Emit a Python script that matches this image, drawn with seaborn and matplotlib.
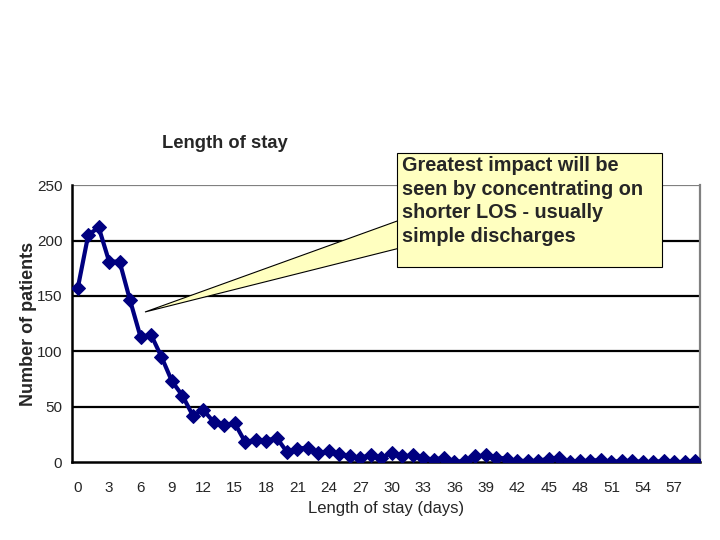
import pandas as pd
import numpy as np
import seaborn as sns
import matplotlib.pyplot as plt
from matplotlib.patches import Polygon, Rectangle

# Length of stay distribution
days = list(range(60))
patients = [157, 205, 212, 181, 181, 146, 113, 115, 95, 73,
            60, 42, 47, 36, 33, 35, 18, 20, 19, 22,
            9, 12, 13, 8, 10, 7, 5, 4, 6, 4,
            8, 5, 6, 4, 2, 4, 0, 1, 5, 6,
            4, 3, 1, 1, 1, 3, 4, 0, 1, 1,
            2, 0, 1, 1, 0, 0, 1, 0, 0, 1]
tick_labels = [str(d) if d % 3 == 0 else "" for d in days]
note = "Greatest impact will be\nseen by concentrating on\nshorter LOS - usually\nsimple discharges"

df = pd.DataFrame({"day": days, "patients": patients})

sns.set_style("white")
plt.rcParams['font.family'] = ['Liberation Sans', 'DejaVu Sans']

fig = plt.figure(figsize=(7.2, 5.4), dpi=100)
ax = fig.add_axes([0.1, 0.1444, 0.872, 0.5126])

for y in [50, 100, 150, 200]:
    ax.axhline(y, color='black', lw=1.6, zorder=1)
ax.axhline(250, color='#808080', lw=1.6, zorder=1)

sns.lineplot(data=df, x="day", y="patients", ax=ax, color='#000080',
             marker='D', markersize=7, linewidth=3, markeredgecolor='#000080', zorder=3)

ax.set_xlim(-0.55, 59.45)
ax.set_ylim(0, 250)
ax.set_yticks(range(0, 251, 50))
ax.set_xticks(days)
ax.set_xticklabels(tick_labels, fontsize=11)
ax.tick_params(axis='y', labelsize=11, direction='inout', length=8, width=1.5, pad=3)
ax.tick_params(axis='x', direction='out', length=5, width=1.5, pad=9)
ax.spines['top'].set_visible(False)
ax.spines['right'].set_color('#808080')
ax.spines['right'].set_linewidth(1.6)
ax.spines['left'].set_linewidth(1.8)
ax.spines['bottom'].set_linewidth(1.8)
ax.spines['left'].set_color('black')
ax.spines['bottom'].set_color('black')

ax.set_xlabel("Length of stay (days)", fontsize=12, labelpad=4)
ax.set_ylabel("Number of patients", fontsize=13, fontweight='bold', labelpad=0)

fig.text(225 / 720, 1 - 143 / 540, "Length of stay", fontsize=13.2, fontweight='bold',
         ha='center', va='center')

# callout with pointer (figure pixel coordinates)
W, H = 720, 540
def fp(x, y):
    return (x / W, 1 - y / H)

wedge = Polygon([fp(145, 312), fp(400, 220), fp(400, 248)], closed=True,
                facecolor='#FFFFC0', edgecolor='black', lw=0.8,
                transform=fig.transFigure, zorder=5)
fig.patches.append(wedge)
x0, y0 = fp(397, 267)
box = Rectangle((x0, y0), (662 - 397) / W, (267 - 153) / H, facecolor='#FFFFC0',
                edgecolor='black', lw=0.8, transform=fig.transFigure, zorder=6)
fig.patches.append(box)
fig.text(402 / W, 1 - 156 / H, note, fontsize=14.3, fontweight='bold', ha='left', va='top',
         linespacing=1.31, zorder=7)

fig.savefig("out.png", dpi=100)
